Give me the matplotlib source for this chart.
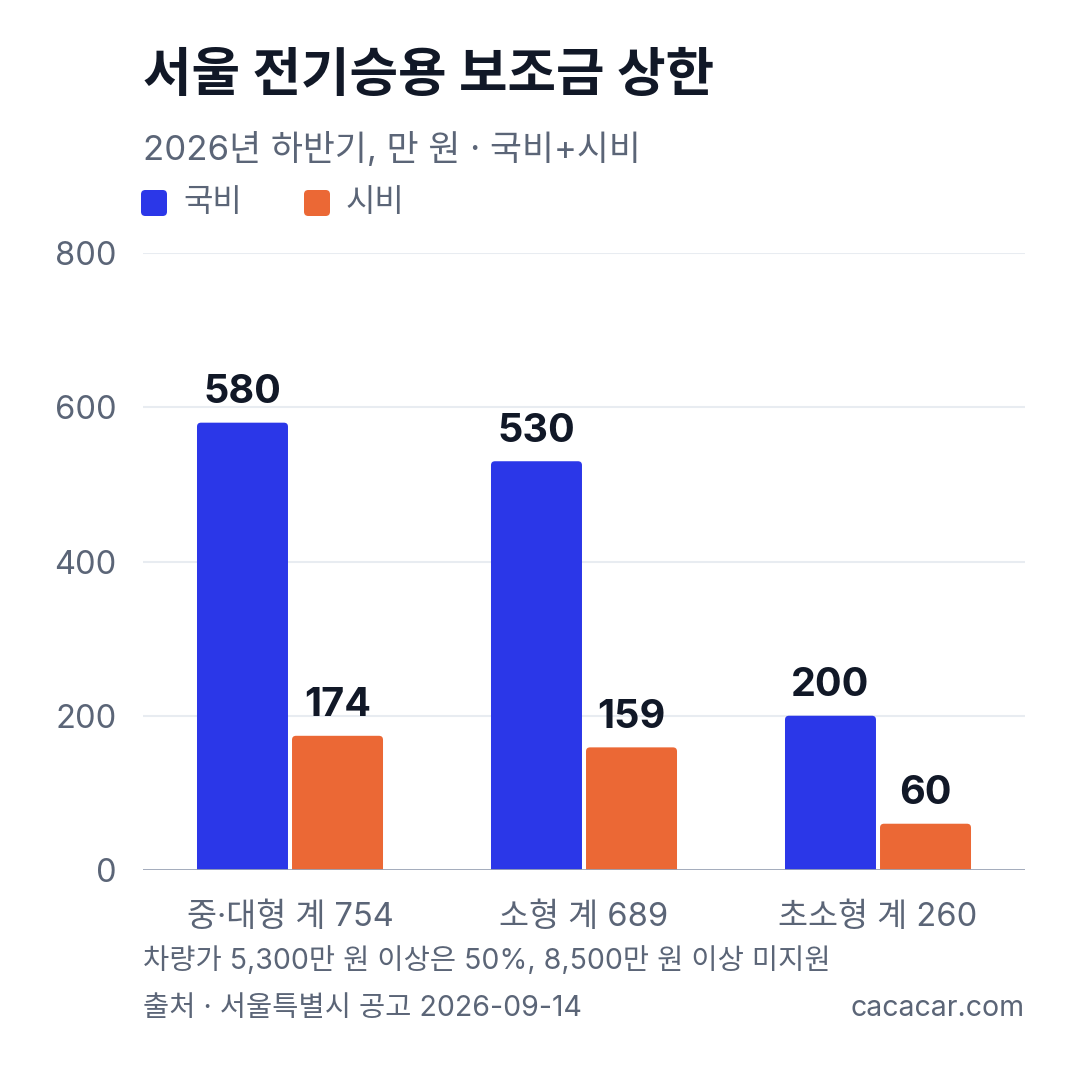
import numpy as np
import matplotlib
matplotlib.use("Agg")
import matplotlib.pyplot as plt
from matplotlib.patches import FancyBboxPatch

plt.rcParams["font.family"] = ["Inter", "Noto Sans CJK KR", "DejaVu Sans"]

categories = ["중·대형 계 754", "소형 계 689", "초소형 계 260"]
national = [580, 530, 200]   # 국비
city = [174, 159, 60]        # 시비
yticks = [0, 200, 400, 600, 800]

BLUE = "#2B37E8"; ORANGE = "#EB6835"
DARK = "#111827"; GRAY = "#5B6577"; GRID = "#E8ECF1"; BASE = "#9AA3B5"

W, H = 1080, 1080
fig = plt.figure(figsize=(W / 100, H / 100), dpi=100)
fig.patch.set_facecolor("white")
ax = fig.add_axes([143 / W, 210 / H, 882 / W, 617 / H])
ax.set_xlim(-0.5, 2.5); ax.set_ylim(0, 800)
for s in ax.spines.values():
    s.set_visible(False)

ax.set_yticks(yticks)
ax.set_yticklabels([str(t) for t in yticks])
ax.tick_params(axis="y", length=0, pad=19, labelsize=23.5, labelcolor=GRAY)
for t in yticks[1:]:
    ax.axhline(t, color=GRID, lw=1.5, zorder=0)
ax.axhline(0, color=BASE, lw=2.0, zorder=5)

x = np.arange(len(categories))
bw = 0.3095; off = 0.1616
# ~4px corner radius, converted to data units on each axis
ux = 4.0 * 3.0 / 882
uy = 4.0 * 800 / 617
for vals, dx, col in [(national, -off, BLUE), (city, off, ORANGE)]:
    for xi, v in zip(x, vals):
        p = FancyBboxPatch((xi + dx - bw / 2, -20), bw, v + 20,
                           boxstyle=f"round,pad=0,rounding_size={ux}",
                           mutation_aspect=uy / ux, fc=col, ec="none", zorder=3)
        ax.add_patch(p)
        ax.annotate(str(v), (xi + dx, v), xytext=(0, 14), textcoords="offset points",
                    ha="center", va="baseline", fontsize=28.5, fontweight="bold", color=DARK)

ax.set_xticks(x)
ax.set_xticklabels(categories)
ax.tick_params(axis="x", length=0, pad=23, labelsize=23.5, labelcolor=GRAY)

# title block
fig.text(143 / W, 1 - 77 / H, "서울 전기승용 보조금 상한", fontsize=38, fontweight="bold",
         color=DARK, ha="left", va="center")
fig.text(143 / W, 1 - 150 / H, "2026년 하반기, 만 원 · 국비+시비", fontsize=25,
         color=GRAY, ha="left", va="center")

# legend
for x0, col, lab in [(141, BLUE, "국비"), (304, ORANGE, "시비")]:
    sq = FancyBboxPatch((x0 / W, 1 - 216 / H), 26 / W, 26 / H,
                        boxstyle="round,pad=0,rounding_size=0.004",
                        transform=fig.transFigure, fc=col, ec="none")
    fig.patches.append(sq)
    fig.text((x0 + 42) / W, 1 - 203 / H, lab, fontsize=23, color=GRAY,
             ha="left", va="center")

# footer
fig.text(143 / W, 1 - 961 / H, "차량가 5,300만 원 이상은 50%, 8,500만 원 이상 미지원",
         fontsize=20.5, color=GRAY, ha="left", va="center")
fig.text(143 / W, 1 - 1008 / H, "출처 · 서울특별시 공고 2026-09-14",
         fontsize=20.5, color=GRAY, ha="left", va="center")
fig.text(1025 / W, 1 - 1008 / H, "cacacar.com",
         fontsize=20.5, color=GRAY, ha="right", va="center")

fig.savefig("out.png", dpi=100, facecolor="white")
